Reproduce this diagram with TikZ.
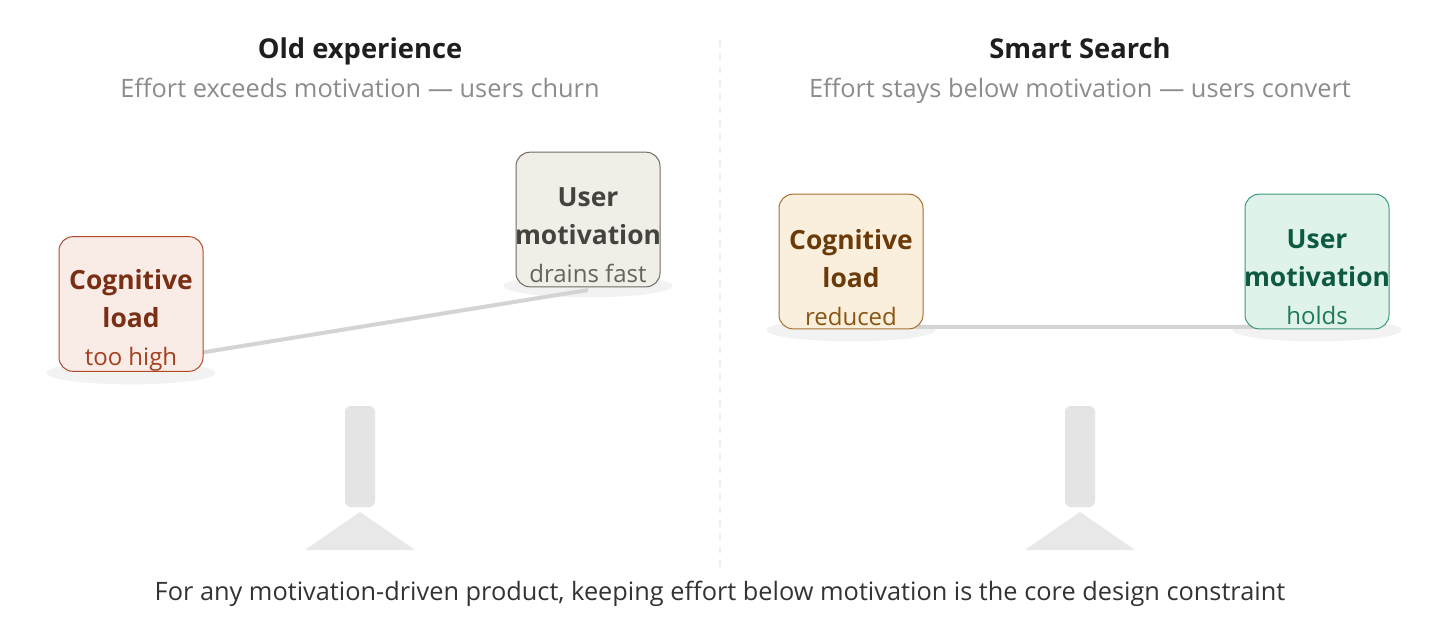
\documentclass[tikz,border=0pt]{standalone}
\usepackage{fontspec}
\setmainfont{Open Sans}
\usetikzlibrary{calc,shapes.geometric}
\definecolor{titlec}{HTML}{1E1E1E}
\definecolor{subc}{HTML}{8C8C8C}
\definecolor{footc}{HTML}{333333}
\definecolor{divc}{HTML}{EEEEEE}
\definecolor{shadc}{HTML}{F2F2F2}
\definecolor{beamc}{HTML}{D4D4D4}
\definecolor{pivc}{HTML}{E4E4E4}
\definecolor{basec}{HTML}{E8E8E8}
\definecolor{rfill}{HTML}{F9EBE6}\definecolor{rdraw}{HTML}{B04A2C}\definecolor{rtext}{HTML}{7A2E14}\definecolor{rsub}{HTML}{A3401E}
\definecolor{gfill}{HTML}{F1EEE8}\definecolor{gdraw}{HTML}{6E6A64}\definecolor{gtext}{HTML}{45433F}\definecolor{gsub}{HTML}{66625C}
\definecolor{ofill}{HTML}{FAEEDC}\definecolor{odraw}{HTML}{A8702E}\definecolor{otext}{HTML}{6A3A08}\definecolor{osub}{HTML}{8A5512}
\definecolor{efill}{HTML}{DFF3EB}\definecolor{edraw}{HTML}{3D9A78}\definecolor{etext}{HTML}{0D5A40}\definecolor{esub}{HTML}{1E7A58}
\tikzset{
  boxnode/.style={rectangle, rounded corners=10.5pt, minimum width=108pt, minimum height=101pt, inner sep=0pt, line width=0.75pt},
  boxtext/.style={align=center, inner sep=0pt, font=\fontsize{19.8}{28.5}\selectfont\bfseries},
  shadow/.style={ellipse, fill=shadc, minimum width=127pt, minimum height=17pt, inner sep=0pt},
  beam/.style={draw=beamc, line width=3pt},
  titletext/.style={anchor=base, font=\fontsize{20.5}{24}\selectfont\bfseries, text=titlec},
  subtext/.style={anchor=base, font=\fontsize{19}{22}\selectfont, text=subc},
  pivot/.style={fill=pivc, rounded corners=4.5pt},
  basetri/.style={fill=basec}
}
\newcommand{\subl}[1]{{\fontsize{18}{20}\selectfont\mdseries #1}}
\begin{document}
\begin{tikzpicture}[x=0.75pt,y=-0.75pt]
\useasboundingbox (0,0) rectangle (1440,636);
\fill[white] (0,0) rectangle (1440,636);
% divider
\draw[divc, line width=1pt, dash pattern=on 5pt off 5pt] (720,40) -- (720,572);
% titles
\node[titletext] (t1) at (360,58) {Old experience};
\node[subtext] (s1) at (360,97) {Effort exceeds motivation — users churn};
\node[titletext] (t2) at (1080,58) {Smart Search};
\node[subtext] (s2) at (1080,97) {Effort stays below motivation — users convert};
% pivots
\foreach \px/\nm in {360/pa,1080/pb}{
  \fill[pivot] (\px-15,406) rectangle (\px+15,507);
  \fill[basetri] (\px,512) -- (\px+55,550) -- (\px-55,550) -- cycle;
}
% shadows
\node[shadow] (sh1) at (131,373) {};
\node[shadow] (sh2) at (588,286) {};
\node[shadow] (sh3) at (851,330) {};
\node[shadow] (sh4) at (1317,330) {};
% beam anchor coordinates
\coordinate (b1l) at (131,364);
\coordinate (b1r) at (588,290);
\coordinate (b2l) at (851,327);
\coordinate (b2r) at (1317,327);
\draw[beam] (b1l) -- (b1r);
\draw[beam] (b2l) -- (b2r);
% boxes
\node[boxnode, fill=rfill, draw=rdraw] (cl1) at (131,304) {};
\node[boxtext, text=rtext] (cl1t) at ($(cl1.center)+(0,16)$) {Cognitive\\load\\\subl{\color{rsub}too high}};
\node[boxnode, fill=gfill, draw=gdraw] (um1) at (588,219.5) {};
\node[boxtext, text=gtext] (um1t) at ($(um1.center)+(0,16)$) {User\\motivation\\\subl{\color{gsub}drains fast}};
\node[boxnode, fill=ofill, draw=odraw] (cl2) at (851,261.5) {};
\node[boxtext, text=otext] (cl2t) at ($(cl2.center)+(0,16)$) {Cognitive\\load\\\subl{\color{osub}reduced}};
\node[boxnode, fill=efill, draw=edraw] (um2) at (1317,261.5) {};
\node[boxtext, text=etext] (um2t) at ($(um2.center)+(0,16)$) {User\\motivation\\\subl{\color{esub}holds}};
% footer
\node[anchor=base, font=\fontsize{19}{22}\selectfont, text=footc] (foot) at (720,600) {For any motivation-driven product, keeping effort below motivation is the core design constraint};
\end{tikzpicture}
\end{document}
